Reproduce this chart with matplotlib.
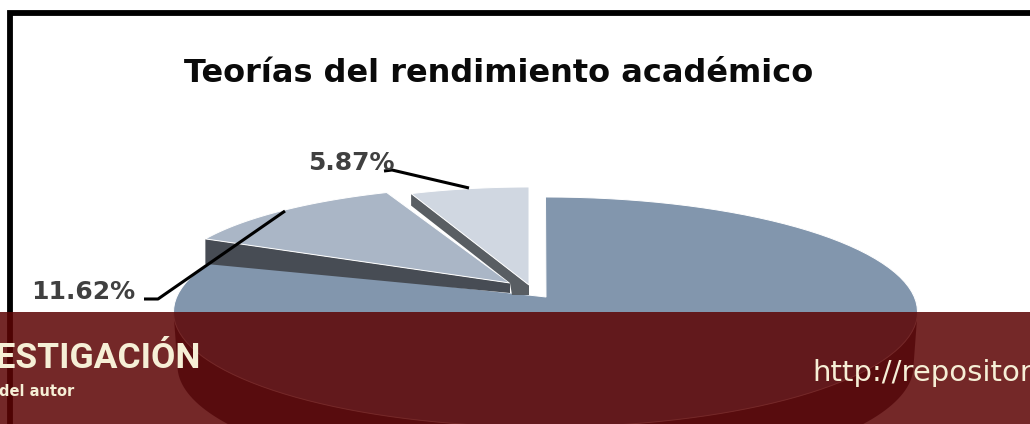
import numpy as np
import matplotlib.pyplot as plt
from matplotlib.patches import Polygon, Rectangle

# Data
slice_names = ['Principal', 'Segunda', 'Tercera']
slice_values = [82.51, 11.62, 5.87]
value_labels = ['', '11.62%', '5.87%']
title = 'Teorías del rendimiento académico'

top_colors = ['#8296ad', '#aab6c6', '#d0d7e1']
side_colors = ['#3b4150', '#474c54', '#595e63']

W, H = 1030, 424

fig = plt.figure(figsize=(W / 100, H / 100), dpi=100)
ax = fig.add_axes([0, 0, 1, 1])
ax.set_xlim(0, W)
ax.set_ylim(H, 0)
ax.axis('off')

# Black frame, runs off the picture to the right and bottom
ax.add_patch(Rectangle((10, 12.5), W + 50, H + 50, facecolor='white', edgecolor='black', linewidth=4.2, zorder=1))

# Angles clockwise from 12 o'clock, taken from the values
stops = np.cumsum([0] + slice_values) / 100 * 2 * np.pi


def arc(cx, cy, rx, ry, a0, a1, n=120):
    t = np.linspace(a0, a1, n)
    return np.column_stack([cx + rx * np.sin(t), cy - ry * np.cos(t)])


# Big slice: outer wall, then top face
cx, cy, rx, ry, depth = 545.5, 312, 372, 115, 54
rim = arc(cx, cy, rx, ry, np.pi / 2, 1.5 * np.pi)
low = arc(cx, cy + depth, rx - 4, ry, np.pi / 2, 1.5 * np.pi)
ax.add_patch(Polygon(np.vstack([rim, low[::-1]]), closed=True, facecolor=side_colors[0], edgecolor='none', zorder=2))
top = np.vstack([[[546, 297]], arc(cx, cy, rx, ry, stops[0], stops[1])])
ax.add_patch(Polygon(top, closed=True, facecolor=top_colors[0], edgecolor='white', linewidth=0.7, zorder=3))

# Second slice: cut face and top face
cx2, cy2, rx2, ry2 = 510, 283, 342, 97
s2 = arc(cx2, cy2, rx2, ry2, stops[1], stops[2])
cut2 = np.array([s2[0], [cx2, cy2], [cx2, cy2 + 10], [s2[0][0], s2[0][1] + 25]])
ax.add_patch(Polygon(cut2, closed=True, facecolor=side_colors[1], edgecolor='none', zorder=4))
ax.add_patch(Polygon(np.vstack([[[cx2, cy2]], s2]), closed=True, facecolor=top_colors[1], edgecolor='white', linewidth=0.7, zorder=5))

# Third slice: cut face and top face
cx3, cy3, rx3, ry3 = 529, 285, 327, 98
s3 = arc(cx3, cy3, rx3, ry3, stops[2], stops[3])
cut3 = np.array([s3[0], [cx3, cy3], [cx3, cy3 + 10], [512, cy3 + 10], [cx2, cy2], [s3[0][0], s3[0][1] + 12]])
ax.add_patch(Polygon(cut3, closed=True, facecolor=side_colors[2], edgecolor='none', zorder=6))
ax.add_patch(Polygon(np.vstack([[[cx3, cy3]], s3]), closed=True, facecolor=top_colors[2], edgecolor='white', linewidth=0.7, zorder=7))

# Leader lines and labels
ax.plot([144, 158, 285], [299, 299, 211], color='black', linewidth=2.2, zorder=8, solid_capstyle='butt')
ax.plot([384, 392, 469], [171, 170, 188], color='black', linewidth=2.2, zorder=8, solid_capstyle='butt')
ax.text(83, 292, value_labels[1], family='DejaVu Sans', fontweight='bold', fontsize=18, color='#404040',
        ha='center', va='center', zorder=9)
ax.text(351, 163, value_labels[2], family='DejaVu Sans', fontweight='bold', fontsize=18, color='#404040',
        ha='center', va='center', zorder=9)
ax.text(499, 74, title, family='DejaVu Sans', fontweight='bold', fontsize=23, color='#0a0a0a',
        ha='center', va='center', zorder=9)

# Translucent banner over the bottom of the chart
ax.add_patch(Rectangle((0, 312), W, H - 312, facecolor=(93 / 255, 4 / 255, 4 / 255), alpha=0.86, edgecolor='none', zorder=10))
ax.text(201, 358, 'INVESTIGACIÓN', family='Roboto', fontweight='bold', fontsize=25.5, color='#f6efd6',
        ha='right', va='center', zorder=11)
ax.text(-1, 392, 'del autor', family='DejaVu Sans', fontweight='bold', fontsize=10.5, color='#f6efd6',
        ha='left', va='center', zorder=11)
ax.text(812, 373, 'http://repositorio', family='DejaVu Sans', fontsize=21, color='#f6efd6',
        ha='left', va='center', zorder=11)

fig.savefig('out.png', dpi=100)
